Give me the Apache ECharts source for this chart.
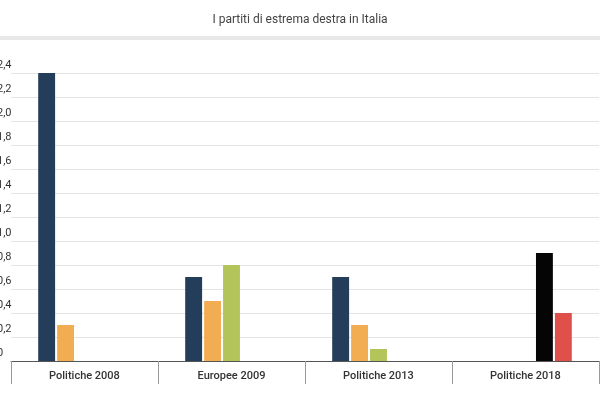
<!DOCTYPE html>
<html><head><meta charset="utf-8">
<script src="https://cdn.jsdelivr.net/npm/echarts@6/dist/echarts.min.js"></script>
<style>html,body{margin:0;padding:0;background:#fff}#c{width:600px;height:400px}</style>
</head><body><div id="c"></div>
<script>
const categories = ['Politiche 2008', 'Europee 2009', 'Politiche 2013', 'Politiche 2018'];
const seriesA = [2.4, 0.7, 0.7, null];   // navy
const seriesB = [0.3, 0.5, 0.3, null];   // orange
const seriesC = [null, 0.8, 0.1, null];  // green
const seriesD = [null, null, null, 0.9]; // black
const seriesE = [null, null, null, 0.4]; // red
const colors = ['#233d5a', '#f2ac52', '#b3c55a', '#050505', '#e0504a'];
const chart = echarts.init(document.getElementById('c'));
const mk = (d, i) => ({type: 'bar', data: d, barGap: '12%', barCategoryGap: '37%', itemStyle: {color: colors[i]}});
chart.setOption({
  animation: false,
  textStyle: {fontFamily: 'Roboto'},
  title: {text: 'I partiti di estrema destra in Italia', left: 'center', top: 9,
    textStyle: {fontSize: 12, fontWeight: 'normal', color: '#444', fontFamily: 'Roboto'}},
  graphic: [{type: 'rect', shape: {x: 0, y: 36, width: 600, height: 4}, style: {fill: '#e8e8e8'}}],
  grid: {left: 11, right: 1, top: 73, bottom: 39, containLabel: false, outerBoundsMode: 'none'},
  xAxis: {type: 'category', data: categories,
    axisLine: {show: true, lineStyle: {color: '#555', width: 1}},
    axisTick: {show: true, alignWithLabel: false, interval: 0, length: 23, lineStyle: {color: '#999', width: 1}},
    axisLabel: {color: '#333', fontSize: 11, fontWeight: 500, margin: 10}},
  yAxis: {type: 'value', min: 0, max: 2.4, interval: 0.2,
    axisLine: {show: false}, axisTick: {show: false},
    splitLine: {lineStyle: {color: '#e4e4e4'}},
    axisLabel: {align: 'left', verticalAlign: 'bottom', margin: 14, padding: [0,0,2,0], color: '#333', fontSize: 11,
      formatter: v => v.toFixed(1).replace('.', ',').replace(/^0,0$/, '0')}},
  series: [mk(seriesA,0), mk(seriesB,1), mk(seriesC,2), mk(seriesD,3), mk(seriesE,4)]
});
</script></body></html>
